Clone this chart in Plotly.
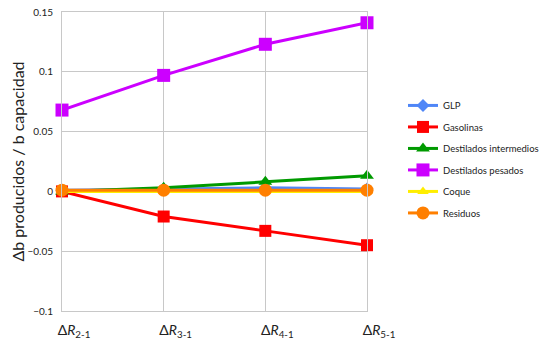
import plotly.graph_objects as go

CATEGORIES = ["Δ<i>R</i><sub>2-1</sub>", "Δ<i>R</i><sub>3-1</sub>",
              "Δ<i>R</i><sub>4-1</sub>", "Δ<i>R</i><sub>5-1</sub>"]

GLP = [0.001, 0.002, 0.003, 0.002]
GASOLINAS = [0.0, -0.021, -0.033, -0.045]
DEST_INTERMEDIOS = [0.0, 0.003, 0.008, 0.013]
DEST_PESADOS = [0.068, 0.097, 0.123, 0.141]
COQUE = [0.0, 0.0, 0.0, 0.0]
RESIDUOS = [0.001, 0.001, 0.001, 0.001]

SERIES = [
    ("GLP", GLP, "#4f86f7", "diamond", 10),
    ("Gasolinas", GASOLINAS, "#ff0000", "square", 12),
    ("Destilados intermedios", DEST_INTERMEDIOS, "#009a00", "triangle-up", 12),
    ("Destilados pesados", DEST_PESADOS, "#cc00ff", "square", 13),
    ("Coque", COQUE, "#ffee00", "triangle-up", 10),
    ("Residuos", RESIDUOS, "#ff7f00", "circle", 13),
]

fig = go.Figure()
for name, values, color, symbol, size in SERIES:
    fig.add_trace(go.Scatter(
        x=CATEGORIES,
        y=values,
        name=name,
        legendgroup=name,
        mode="lines+markers",
        line=dict(color=color, width=3),
        marker=dict(color=color, symbol=symbol, size=size),
        cliponaxis=False,
    ))

# page body has an 8px margin, so the figure is drawn 8px smaller
fig.update_layout(
    width=545,
    height=332,
    font_family="Lato",
    plot_bgcolor="white",
    paper_bgcolor="white",
    margin=dict(l=54, r=186, t=4, b=29, autoexpand=False),
    showlegend=True,
    legend=dict(
        x=1.118, y=0.736, xanchor="left", yanchor="top",
        font=dict(size=9.5, color="#222222"),
        tracegroupgap=2.5,
        itemwidth=30,
    ),
    xaxis=dict(
        type="category",
        range=[0, 3],
        automargin=False,
        showgrid=True,
        gridcolor="#c8c8c8",
        gridwidth=1,
        showline=True,
        linecolor="#c8c8c8",
        mirror=True,
        ticks="",
        ticklabelshift=12,
        ticklabelstandoff=6,
        tickfont=dict(size=14, color="#222222"),
    ),
    yaxis=dict(
        range=[-0.1, 0.15],
        dtick=0.05,
        tickformat="~g",
        automargin=False,
        showgrid=True,
        gridcolor="#c8c8c8",
        zeroline=False,
        showline=True,
        linecolor="#c8c8c8",
        mirror=True,
        ticks="",
        ticklabelstandoff=6,
        ticklabeloverflow="allow",
        tickfont=dict(size=10, color="#222222"),
        title=dict(text="Δb producidos / b capacidad", font=dict(size=16, color="#222222"), standoff=5),
    ),
)

fig.write_html("out.html")
